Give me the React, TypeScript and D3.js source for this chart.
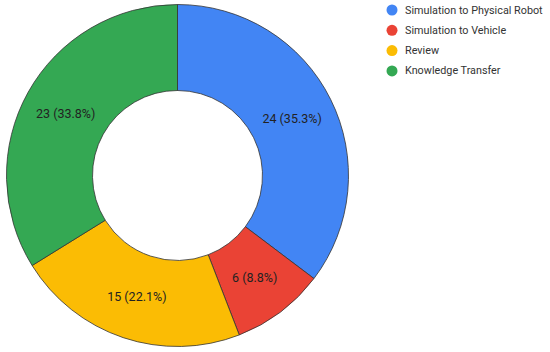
import React from "react";
import * as d3 from "d3";

const categories = ["Simulation to Physical Robot", "Simulation to Vehicle", "Review", "Knowledge Transfer"];
const values = [24, 6, 15, 23];
const percentLabels = ["35.3%", "8.8%", "22.1%", "33.8%"];
const colors = ["#4285F4", "#EA4335", "#FBBC04", "#34A853"];

export default function App() {
  const width = 550, height = 352;
  const cx = 177.5, cy = 175.5, outerR = 171, innerR = 85;
  const pie = d3.pie<number>().sort(null).value((d) => d);
  const arcs = pie(values);
  const arc = d3.arc<d3.PieArcDatum<number>>().innerRadius(innerR).outerRadius(outerR);
  const labelArc = d3.arc<d3.PieArcDatum<number>>().innerRadius(innerR).outerRadius(outerR);
  return (
    <svg width={width} height={height} style={{ position: "absolute", left: 0, top: 0, fontFamily: "Roboto, sans-serif" }}>
      <rect width={width} height={height} fill="#fff" />
      <g transform={`translate(${cx},${cy})`}>
        {arcs.map((a, i) => (
          <path key={i} d={arc(a) || ""} fill={colors[i]} stroke="#333" strokeWidth={0.8} />
        ))}
        {arcs.map((a, i) => {
          const [x, y] = labelArc.centroid(a);
          return (
            <text key={i} x={x} y={y} textAnchor="middle" dominantBaseline="central" fontSize={12.5} fill="#222">
              {`${values[i]} (${percentLabels[i]})`}
            </text>
          );
        })}
      </g>
      <g>
        {categories.map((c, i) => (
          <g key={i} transform={`translate(392,${10 + i * 20.3})`}>
            <circle r={5.5} fill={colors[i]} />
            <text x={13} y={0} dominantBaseline="central" fontSize={10.8} fill="#333">{c}</text>
          </g>
        ))}
      </g>
    </svg>
  );
}
